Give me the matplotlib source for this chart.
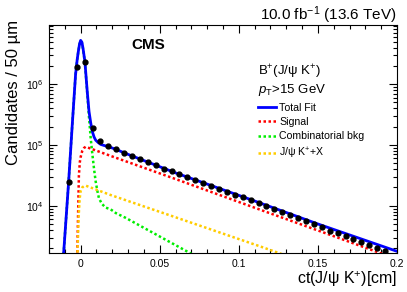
import matplotlib
matplotlib.use('Agg')
import matplotlib.pyplot as plt
from matplotlib.ticker import FixedLocator, MultipleLocator, LogLocator, NullFormatter

plt.rcParams['font.family'] = ['Liberation Sans', 'DejaVu Sans']
plt.rcParams['mathtext.fontset'] = 'custom'
plt.rcParams['mathtext.rm'] = 'Liberation Sans'
plt.rcParams['mathtext.it'] = 'Liberation Sans:italic'
plt.rcParams['mathtext.bf'] = 'Liberation Sans:bold'

# Data points (50 um bins)
ct_bins = [-0.0075, -0.0025, 0.0025, 0.0075, 0.0125, 0.0175, 0.0225, 0.0275,
           0.0325, 0.0375, 0.0425, 0.0475, 0.0525, 0.0575, 0.0625, 0.0675,
           0.0725, 0.0775, 0.0825, 0.0875, 0.0925, 0.0975, 0.1025, 0.1075,
           0.1125, 0.1175, 0.1225, 0.1275, 0.1325, 0.1375, 0.1425, 0.1475,
           0.1525, 0.1575, 0.1625, 0.1675, 0.1725, 0.1775, 0.1825, 0.1875,
           0.1925]
counts = [24500, 1.89e6, 2.33e6, 1.875e5, 114600, 94800, 86100, 74500,
          65600, 57900, 51800, 46100, 40600, 36800, 33200, 29600,
          26500, 23600, 21300, 19050, 16980, 15170, 13740, 12270,
          10960, 9890, 8930, 7960, 7110, 6280, 5660, 5010,
          4420, 3910, 3520, 3200, 2850, 2570, 2300, 2040,
          1780]

# Fit curves
fit_ct = [-0.0108, -0.0076, -0.0053, -0.0032, -0.0022, -0.0015, -0.0007, 0.0,
          0.0008, 0.0015, 0.0027, 0.0042, 0.0053, 0.0064, 0.0074, 0.0085,
          0.0095, 0.0110, 0.0127, 0.0150, 0.0179, 0.0230, 0.0285, 0.060,
          0.1076, 0.150, 0.200]
fit_val = [1585, 24550, 2.14e5, 1.445e6, 2.51e6, 3.39e6, 4.57e6, 5.25e6,
           4.9e6, 3.89e6, 2.34e6, 7.41e5, 3.55e5, 2.29e5, 1.66e5, 1.35e5,
           1.20e5, 1.10e5, 1.02e5, 9.77e4, 9.33e4, 8.32e4, 7.24e4, 3.47e4,
           1.26e4, 5010, 1780]

sig_ct = [-0.0027, -0.0021, -0.0015, -0.0011, -0.0005, 0.0, 0.0010, 0.0021,
          0.0032, 0.020, 0.060, 0.114, 0.160, 0.200]
sig_val = [794, 1738, 1.0e4, 3.16e4, 5.25e4, 6.31e4, 7.94e4, 8.91e4,
           9.33e4, 6.46e4, 2.75e4, 8510, 3160, 1320]

comb_ct = [-0.0108, -0.0076, -0.0053, -0.0032, -0.0022, -0.0015, -0.0007, 0.0,
           0.0008, 0.0015, 0.0027, 0.0042, 0.0053, 0.0064, 0.0074, 0.0085,
           0.0095, 0.0106, 0.0116, 0.0135, 0.0158, 0.0190, 0.0222, 0.0285,
           0.0700]
comb_val = [1585, 24550, 2.14e5, 1.445e6, 2.51e6, 3.39e6, 4.57e6, 5.13e6,
            4.79e6, 3.8e6, 2.24e6, 7.08e5, 2.82e5, 1.26e5, 7.08e4, 3.98e4,
            2.51e4, 1.74e4, 1.32e4, 1.07e4, 9330, 8710, 7590, 6310,
            1620]

jpsix_ct = [-0.0025, -0.0019, -0.0012, -0.0006, 0.0, 0.0010, 0.0020, 0.0032,
            0.019, 0.060, 0.114, 0.130]
jpsix_val = [794, 1995, 7080, 1.32e4, 1.74e4, 2.0e4, 2.09e4, 2.14e4,
             1.5e4, 6460, 2120, 1510]

xticks = [0, 0.05, 0.1, 0.15, 0.2]
xtick_labels = ['0', '0.05', '0.1', '0.15', '0.2']

fig = plt.figure(figsize=(4.07, 2.92), dpi=100)
ax = fig.add_axes([0.1204, 0.1336, 0.8550, 0.7808])

dot = (0, (1, 1))
l_comb, = ax.plot(comb_ct, comb_val, color='#00ee00', lw=1.8, ls=dot, dash_capstyle='butt')
l_sig, = ax.plot(sig_ct, sig_val, color='#ff0000', lw=1.8, ls=dot, dash_capstyle='butt')
l_jx, = ax.plot(jpsix_ct, jpsix_val, color='#ffcc00', lw=1.8, ls=dot, dash_capstyle='butt')
l_fit, = ax.plot(fit_ct, fit_val, color='#0000ff', lw=2.0)
ax.plot(ct_bins, counts, 'o', color='black', ms=3.5, zorder=5)

ax.set_yscale('log')
ax.set_xlim(-0.02, 0.2)
ax.set_ylim(1670, 9.4e6)

ax.xaxis.set_major_locator(FixedLocator(xticks))
ax.set_xticklabels(xtick_labels)
ax.xaxis.set_minor_locator(MultipleLocator(0.01))
ax.yaxis.set_major_locator(LogLocator(base=10))
ax.yaxis.set_minor_locator(LogLocator(base=10, subs=range(2, 10)))
ax.yaxis.set_minor_formatter(NullFormatter())
ax.tick_params(which='both', direction='in', top=True, right=True, labelsize=7.5, width=0.8)
ax.tick_params(which='major', length=5.5, pad=4)
ax.tick_params(which='minor', length=3)
for s in ax.spines.values():
    s.set_linewidth(0.8)

ax.set_xlabel(r'ct(J/ψ K$^{+}$)[cm]', fontsize=11.5, ha='right', va='center')
ax.xaxis.set_label_coords(1.0, -0.114)
ax.set_ylabel('Candidates / 50 µm', fontsize=12, ha='right', va='center')
ax.yaxis.set_label_coords(-0.1034, 1.022)

fig.text(0.9754, 0.932, r'10.0 fb$^{-1}$ (13.6 TeV)', fontsize=11, ha='right', va='baseline')
ax.text(0.2845, 0.912, 'CMS', fontsize=11, fontweight='bold', ha='center', va='center',
        transform=ax.transAxes)
ax.text(0.6006, 0.7807, r'B$^{+}$(J/ψ K$^{+}$)', fontsize=9.5, ha='left', va='baseline',
        transform=ax.transAxes)
ax.text(0.6006, 0.7018, r'$p_{\mathrm{T}}$>15 GeV', fontsize=9.5, ha='left', va='baseline',
        transform=ax.transAxes)

ax.legend([l_fit, l_sig, l_comb, l_jx],
          ['Total Fit', 'Signal', 'Combinatorial bkg', r'J/ψ K$^{+}$+X'],
          loc='upper left', bbox_to_anchor=(0.6006, 0.66), frameon=False,
          fontsize=7.6, handlelength=1.7, handletextpad=0.3, labelspacing=0.42,
          borderpad=0, borderaxespad=0)

fig.savefig('out.png', dpi=100)
